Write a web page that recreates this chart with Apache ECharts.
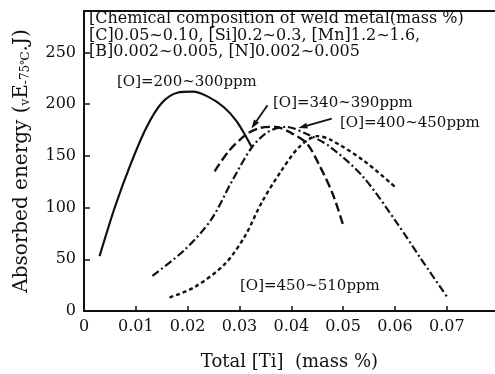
<!DOCTYPE html>
<html>
<head>
<meta charset="utf-8">
<script src="https://cdn.jsdelivr.net/npm/echarts@6/dist/echarts.min.js"></script>
<style>
  html, body { margin: 0; padding: 0; background: #fff; }
  #chart { width: 495px; height: 374px; }
</style>
</head>
<body>
<div id="chart"></div>
<script>
// [Ti] (mass %) vs absorbed energy (J)
const o200to300 = [[0.003, 53], [0.006, 101], [0.009, 142], [0.012, 177], [0.015, 201], [0.018, 211], [0.021, 212], [0.024, 207], [0.027, 197], [0.0295, 183], [0.0323, 159]];
const o340to390 = [[0.0252, 135], [0.028, 155], [0.0314, 171], [0.034, 177], [0.037, 178], [0.040, 172], [0.043, 162], [0.0455, 140], [0.048, 113], [0.050, 83]];
const o400to450 = [[0.0132, 34], [0.0194, 59], [0.0245, 88], [0.0285, 125], [0.0325, 159], [0.0358, 174], [0.039, 178], [0.043, 171], [0.0474, 159], [0.0538, 130], [0.0604, 85], [0.0648, 52], [0.070, 14]];
const o450to510 = [[0.0165, 13], [0.0213, 23], [0.0271, 45], [0.031, 72], [0.0343, 105], [0.038, 135], [0.0416, 159], [0.045, 169], [0.0474, 166], [0.0538, 146], [0.060, 120]];

const seriesNames = ['[O]=200~300ppm', '[O]=340~390ppm', '[O]=400~450ppm', '[O]=450~510ppm'];
const compositionLines = [
  '[Chemical composition of weld metal(mass %)',
  '[C]0.05~0.10, [Si]0.2~0.3, [Mn]1.2~1.6,',
  '[B]0.002~0.005, [N]0.002~0.005'
];

const font = 'DejaVu Serif';
const ink = '#111';

const chart = echarts.init(document.getElementById('chart'));

function curve(name, data, type, width) {
  return {
    name: name,
    type: 'line',
    data: data,
    smooth: 0.3,
    symbol: 'none',
    lineStyle: { color: ink, width: width, type: type },
    z: 3
  };
}

const option = {
  backgroundColor: '#fff',
  animation: false,
  grid: { left: 84, right: 0, top: 11, bottom: 63, outerBoundsMode: 'none', containLabel: false },
  xAxis: [
    {
      type: 'value',
      min: 0,
      max: 0.0793,
      interval: 0.01,
      name: 'Total [Ti]  (mass %)',
      nameLocation: 'middle',
      nameGap: 42,
      nameTextStyle: { fontFamily: font, fontSize: 18, color: ink },
      axisLine: { lineStyle: { color: ink, width: 2 } },
      axisTick: { inside: true, length: 5, lineStyle: { color: ink, width: 1.5 } },
      axisLabel: {
        fontFamily: font, fontSize: 16, color: ink, margin: 8, showMaxLabel: false,
        formatter: v => (v === 0 ? '0' : v.toFixed(2))
      },
      splitLine: { show: false }
    },
    {
      type: 'value',
      position: 'top',
      min: 0,
      max: 0.0793,
      axisLine: { show: true, onZero: false, lineStyle: { color: ink, width: 2 } },
      axisTick: { show: false },
      axisLabel: { show: false },
      splitLine: { show: false }
    }
  ],
  yAxis: {
    type: 'value',
    min: 0,
    max: 290,
    interval: 50,
    name: '{a|Absorbed energy (}{s|v}{a|E}{s|-75℃}{a|.J)}',
    nameLocation: 'middle',
    nameRotate: 90,
    nameGap: 52,
    nameTextStyle: {
      rich: {
        a: { fontFamily: font, fontSize: 20, color: ink, verticalAlign: 'bottom', lineHeight: 24 },
        s: { fontFamily: font, fontSize: 12, color: ink, verticalAlign: 'bottom', lineHeight: 17 }
      }
    },
    axisLine: { show: true, lineStyle: { color: ink, width: 2 } },
    axisTick: { inside: true, length: 6, lineStyle: { color: ink, width: 1.5 } },
    axisLabel: { fontFamily: font, fontSize: 16, color: ink, margin: 8, showMaxLabel: false },
    splitLine: { show: false }
  },
  series: [
    curve(seriesNames[0], o200to300, 'solid', 2.2),
    Object.assign(curve(seriesNames[1], o340to390, [9, 4], 2.4), {
      markLine: {
        silent: true,
        symbol: ['none', 'triangle'],
        symbolSize: [6, 9],
        label: { show: false },
        lineStyle: { color: ink, width: 1.8, type: 'solid', curveness: 0.35 },
        data: [[{ coord: [0.0354, 199] }, { coord: [0.0328, 180] }]]
      }
    }),
    Object.assign(curve(seriesNames[2], o400to450, [8, 3, 2, 3], 2.2), {
      markLine: {
        silent: true,
        symbol: ['none', 'triangle'],
        symbolSize: [6, 9],
        label: { show: false },
        lineStyle: { color: ink, width: 1.8, type: 'solid', curveness: 0.3 },
        data: [[{ coord: [0.0478, 186] }, { coord: [0.0422, 178] }]]
      }
    }),
    curve(seriesNames[3], o450to510, [4, 3], 2.4)
  ],
  graphic: [
    {
      type: 'text', left: 89, top: 11,
      style: { text: compositionLines.join('\n'), font: '16px "DejaVu Serif"', fill: ink, lineHeight: 16.5 }
    },
    { type: 'text', left: 117, top: 75, style: { text: seriesNames[0], font: '15px "DejaVu Serif"', fill: ink } },
    { type: 'text', left: 273, top: 96, style: { text: seriesNames[1], font: '15px "DejaVu Serif"', fill: ink } },
    { type: 'text', left: 340, top: 116, style: { text: seriesNames[2], font: '15px "DejaVu Serif"', fill: ink } },
    { type: 'text', left: 240, top: 279, style: { text: seriesNames[3], font: '15px "DejaVu Serif"', fill: ink } }
  ]
};

chart.setOption(option);
</script>
</body>
</html>
